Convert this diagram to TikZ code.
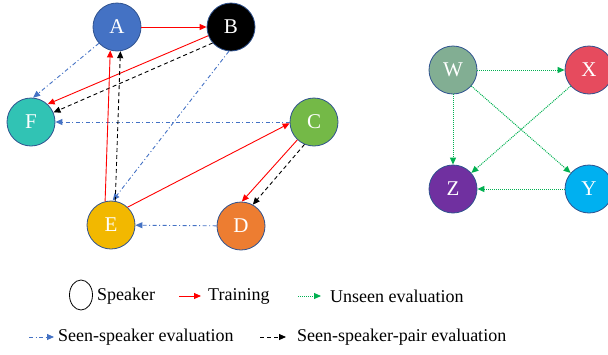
\documentclass[tikz,border=0pt]{standalone}
\usepackage{fontspec}
\setmainfont{Liberation Serif}
\usetikzlibrary{arrows.meta,shapes.geometric}
\definecolor{cA}{HTML}{4472C4}
\definecolor{cC}{HTML}{74B947}
\definecolor{cD}{HTML}{ED7D31}
\definecolor{cE}{HTML}{F2B800}
\definecolor{cF}{HTML}{31C3B4}
\definecolor{cW}{HTML}{82AE93}
\definecolor{cX}{HTML}{E64B5E}
\definecolor{cY}{HTML}{00B0F0}
\definecolor{cZ}{HTML}{7030A0}
\definecolor{rim}{HTML}{2F528F}
\definecolor{seen}{HTML}{4472C4}
\definecolor{unseen}{HTML}{00B050}
\tikzset{
  spk/.style={circle,draw=rim,line width=0.8pt,minimum size=48pt,inner sep=0pt,text=white,font=\fontsize{21}{21}\selectfont},
  tip/.style={-{Triangle[length=7pt,width=6pt]}},
  train/.style={tip,draw=red,line width=0.9pt},
  pair/.style={tip,draw=black,line width=0.9pt,dash pattern=on 4pt off 3pt},
  seenev/.style={tip,draw=seen,line width=0.9pt,dash pattern=on 4pt off 2.5pt on 1pt off 2.5pt},
  unseenev/.style={tip,draw=unseen,line width=1pt,dash pattern=on 1pt off 1pt},
  lab/.style={anchor=west,inner sep=0pt,font=\fontsize{18}{18}\selectfont}
}
\begin{document}
\begin{tikzpicture}[x=1pt,y=-1pt]
\useasboundingbox (0,0) rectangle (608,354);
% left graph
\node[spk,fill=cA] (A) at (117,27) {A};
\node[spk,fill=black] (B) at (231,27) {B};
\node[spk,fill=cF] (F) at (31,122) {F};
\node[spk,fill=cC] (C) at (314,122) {C};
\node[spk,fill=cE] (E) at (111,225) {E};
\node[spk,fill=cD] (D) at (241,226) {D};
% right graph
\node[spk,fill=cW] (W) at (453,70) {W};
\node[spk,fill=cX] (X) at (589,70) {X};
\node[spk,fill=cZ] (Z) at (453,189) {Z};
\node[spk,fill=cY] (Y) at (589,189) {Y};
% left edges
\draw[train] (A) -- (B);
\draw[train] (B.201) -- (F.47);
\draw[pair] (B.221) -- (F.23);
\draw[seenev] (A.222) -- (F.85);
\draw[seenev] (B.265) -- (E.86);
\draw[seenev] (C) -- (F);
\draw[seenev] (D) -- (E);
\draw[train] (E.47) -- (C.183);
\draw[train] (E.104) -- (A.254);
\draw[pair] (E.80) -- (A.278);
\draw[train] (C.227) -- (D.88);
\draw[pair] (C.247) -- (D.61);
% right edges
\draw[unseenev] (W) -- (X);
\draw[unseenev] (W) -- (Z);
\draw[unseenev] (W) -- (Y);
\draw[unseenev] (X) -- (Z);
\draw[unseenev] (Y) -- (Z);
% legend
\node[ellipse,draw=black,line width=0.8pt,minimum width=23pt,minimum height=30pt,inner sep=0pt] (lspk) at (81,295) {};
\node[lab] (tspk) at (97,296) {Speaker};
\coordinate (ltr1) at (179,296);
\coordinate (ltr2) at (201,296);
\draw[train] (ltr1) -- (ltr2);
\node[lab] (ttr) at (208,296) {Training};
\coordinate (lun1) at (298,296);
\coordinate (lun2) at (321,296);
\draw[unseenev] (lun1) -- (lun2);
\node[lab] (tun) at (330,296) {Unseen evaluation};
\coordinate (lse1) at (29,337);
\coordinate (lse2) at (54,337);
\draw[seenev] (lse1) -- (lse2);
\node[lab] (tse) at (58,337) {Seen-speaker evaluation};
\coordinate (lpa1) at (260,337);
\coordinate (lpa2) at (286,337);
\draw[pair] (lpa1) -- (lpa2);
\node[lab] (tpa) at (297,337) {Seen-speaker-pair evaluation};
\end{tikzpicture}
\end{document}
